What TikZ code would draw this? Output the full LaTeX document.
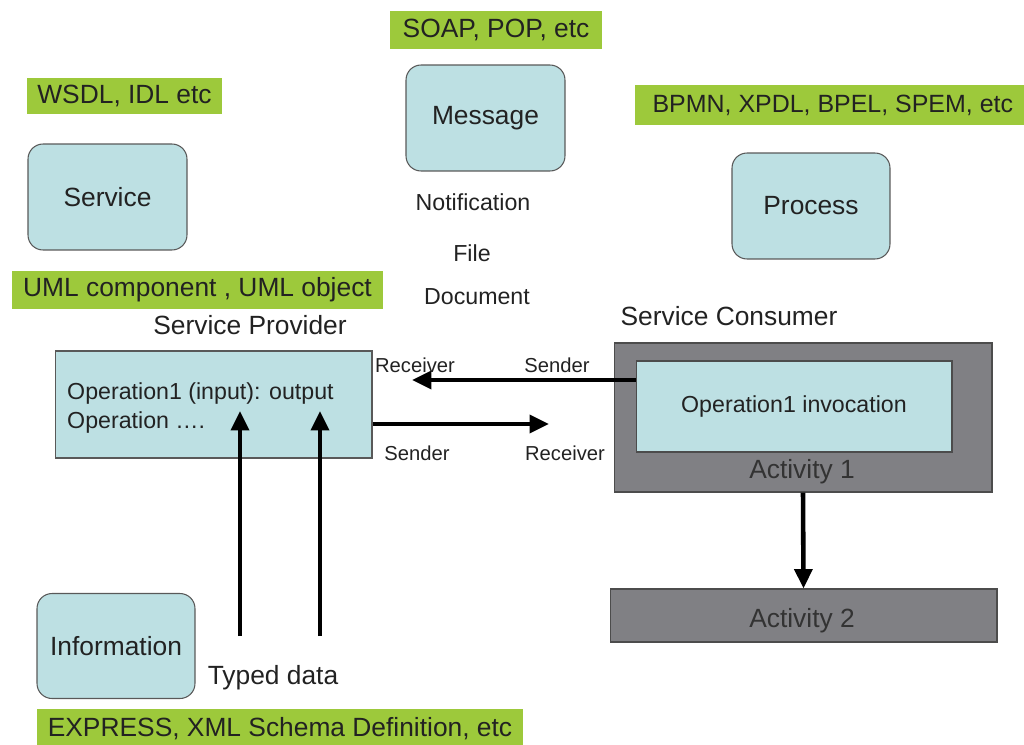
\documentclass[tikz,border=0pt]{standalone}
\usepackage{fontspec}
\setmainfont{Liberation Sans}
\usetikzlibrary{arrows.meta}

\definecolor{boxblue}{HTML}{BDE0E3}
\definecolor{tagGreen}{HTML}{9DC93B}
\definecolor{actGray}{HTML}{808084}
\definecolor{inkDark}{HTML}{222222}

\tikzset{
    bigtext/.style={font=\fontsize{15}{18}\selectfont, text=inkDark},
    midtext/.style={font=\fontsize{13.2}{16}\selectfont, text=inkDark},
    smalltext/.style={font=\fontsize{11.5}{14}\selectfont, text=inkDark},
    concept/.style={draw=black!65, fill=boxblue, rounded corners=0.3cm, line width=0.6pt,
        minimum width=3.18cm, minimum height=2.12cm, bigtext},
    tag/.style={fill=tagGreen, inner sep=0pt, minimum height=0.76cm, bigtext},
    actbox/.style={draw=black!70, fill=actGray, line width=0.6pt},
    flow/.style={line width=2.6pt, -{Triangle[length=11pt,width=10pt]}}
}

\begin{document}
\begin{tikzpicture}[x=0.02cm, y=-0.02cm]
    \useasboundingbox (0,0) rectangle (1024,744);
    \clip (0,0) rectangle (1024,744);

    % the four concepts
    \node[concept] (service) at (107.5,197) {Service};
    \node[concept] (message) at (485.5,118) {Message};
    \node[concept, minimum width=3.16cm] (process) at (811,206) {Process};
    \node[concept, minimum width=3.16cm, minimum height=2.1cm] (information) at (116,646) {Information};

    % standards tags
    \node[tag, minimum width=3.9cm, minimum height=0.72cm] (wsdl) at (124.5,96) {WSDL, IDL etc};
    \node[tag, minimum width=7.42cm] (uml) at (197.5,290) {UML component , UML object};
    \node[tag, minimum width=4.24cm] (soap) at (496,30) {SOAP, POP, etc};
    \node[tag, anchor=west, minimum height=0.8cm, inner xsep=0.24cm, minimum width=7.9cm,
        font=\fontsize{14.2}{17}\selectfont] (bpmn) at (635,105) {BPMN, XPDL, BPEL, SPEM, etc};
    \node[tag, minimum width=9.72cm, minimum height=0.8cm] (express) at (280,729) {EXPRESS, XML Schema Definition, etc};

    % message kinds
    \node[midtext] (notif) at (473,202) {Notification};
    \node[midtext] (file) at (472,253) {File};
    \node[midtext] (doc) at (477,297) {Document};

    % provider side
    \node[bigtext] (provlbl) at (250,325) {Service Provider};
    \node[draw=black!65, fill=boxblue, line width=0.6pt, minimum width=6.34cm, minimum height=2.14cm] (provider) at (213.5,404.5) {};
    \node[midtext, anchor=west, align=left] (ops) at (61,408) {Operation1 (input): output\\Operation \dots.};

    % consumer side
    \node[bigtext] (conslbl) at (729,316) {Service Consumer};
    \node[actbox, minimum width=7.56cm, minimum height=2.98cm] (act1) at (803,417.5) {};
    \node[draw=black!70, fill=boxblue, line width=0.6pt, minimum width=6.32cm, minimum height=1.82cm, midtext] (invoke) at (794,406.5) {Operation1 invocation};
    \node[bigtext, text=black!80] (act1lbl) at (802,472) {Activity 1};
    \node[actbox, minimum width=7.74cm, minimum height=1.06cm] (act2) at (803.5,615.5) {};
    \node[bigtext, text=black!80] (act2lbl) at (802,621) {Activity 2};

    % message exchange
    \coordinate (recvL) at (412,380);
    \coordinate (recvR) at (549,424);
    \draw[flow] (invoke.west |- recvL) -- (recvL);
    \draw[flow] (provider.east |- recvR) -- (recvR);
    \node[smalltext] (rcv1) at (415,365) {Receiver};
    \node[smalltext] (snd1) at (557,365) {Sender};
    \node[smalltext] (snd2) at (417,453) {Sender};
    \node[smalltext] (rcv2) at (565,453) {Receiver};

    % typed data into the provider
    \coordinate (inA) at (240,636);
    \coordinate (inB) at (320,636);
    \draw[flow] (inA) -- (240,411);
    \draw[flow] (inB) -- (320,411);
    \node[bigtext] (typed) at (273,678) {Typed data};

    \draw[flow] (act1.south) -- (act2.north);
\end{tikzpicture}
\end{document}
